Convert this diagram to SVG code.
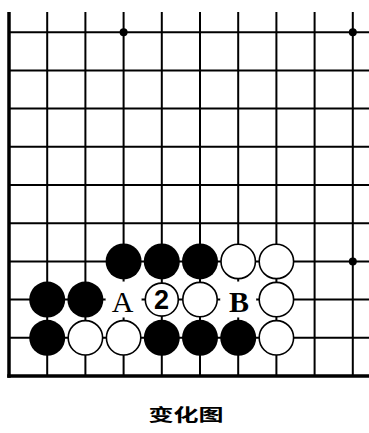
<svg xmlns="http://www.w3.org/2000/svg" width="369" height="433" viewBox="0 0 369 433">
<style>
.ln{stroke:#000;stroke-width:2;fill:none}
.edge{stroke:#000;stroke-width:3.5;fill:none}
.b{fill:#000}
.w{fill:#fff;stroke:#000;stroke-width:1.6}
.star{fill:#000}
.lab{font-family:"Liberation Serif",serif;font-size:30px;fill:#000;text-anchor:middle}
</style>
<rect width="369" height="433" fill="#fff"/>
<g id="connectors">
<g class="ln">
<line x1="47.2" y1="12" x2="47.2" y2="376"/>
<line x1="85.4" y1="12" x2="85.4" y2="376"/>
<line x1="123.6" y1="12" x2="123.6" y2="376"/>
<line x1="161.8" y1="12" x2="161.8" y2="376"/>
<line x1="200" y1="12" x2="200" y2="376"/>
<line x1="238.2" y1="12" x2="238.2" y2="376"/>
<line x1="276.4" y1="12" x2="276.4" y2="376"/>
<line x1="314.6" y1="12" x2="314.6" y2="376"/>
<line x1="352.8" y1="12" x2="352.8" y2="376"/>
<line x1="9" y1="32.2" x2="369" y2="32.2"/>
<line x1="9" y1="70.4" x2="369" y2="70.4"/>
<line x1="9" y1="108.6" x2="369" y2="108.6"/>
<line x1="9" y1="146.8" x2="369" y2="146.8"/>
<line x1="9" y1="185" x2="369" y2="185"/>
<line x1="9" y1="223.2" x2="369" y2="223.2"/>
<line x1="9" y1="261.4" x2="369" y2="261.4"/>
<line x1="9" y1="299.6" x2="369" y2="299.6"/>
<line x1="9" y1="337.8" x2="369" y2="337.8"/>
</g>
<g class="edge">
<line x1="9" y1="12" x2="9" y2="377.75"/>
<line x1="7.25" y1="376" x2="369" y2="376"/>
</g>
<circle class="star" cx="123.6" cy="32.2" r="4"/>
<circle class="star" cx="352.8" cy="32.2" r="4"/>
<circle class="star" cx="352.8" cy="261.4" r="4"/>
</g>
<g id="stone-b-3-3"><circle class="b" cx="123.6" cy="261.4" r="18"/></g>
<g id="stone-b-4-3"><circle class="b" cx="161.8" cy="261.4" r="18"/></g>
<g id="stone-b-5-3"><circle class="b" cx="200" cy="261.4" r="18"/></g>
<g id="stone-w-6-3"><circle class="w" cx="238.2" cy="261.4" r="17.2"/></g>
<g id="stone-w-7-3"><circle class="w" cx="276.4" cy="261.4" r="17.2"/></g>
<g id="stone-b-1-2"><circle class="b" cx="47.2" cy="299.6" r="18"/></g>
<g id="stone-b-2-2"><circle class="b" cx="85.4" cy="299.6" r="18"/></g>
<g id="label-A"><circle cx="123.6" cy="299.6" r="18" fill="#fff"/><text class="lab" x="122.5" y="311.5">A</text></g>
<g id="stone-w-2"><circle class="w" cx="161.8" cy="299.6" r="16.5"/><text x="161.5" y="309.3" font-family="Liberation Sans, sans-serif" font-size="27" font-weight="bold" text-anchor="middle" fill="#000">2</text></g>
<g id="stone-w-5-2"><circle class="w" cx="200" cy="299.6" r="17.2"/></g>
<g id="label-B"><circle cx="238.2" cy="299.6" r="18" fill="#fff"/><text class="lab" x="239" y="311.5" font-weight="bold">B</text></g>
<g id="stone-w-7-2"><circle class="w" cx="276.4" cy="299.6" r="17.2"/></g>
<g id="stone-b-1-1"><circle class="b" cx="47.2" cy="337.8" r="18"/></g>
<g id="stone-w-2-1"><circle class="w" cx="85.4" cy="337.8" r="17.2"/></g>
<g id="stone-w-3-1"><circle class="w" cx="123.6" cy="337.8" r="17.2"/></g>
<g id="stone-b-4-1"><circle class="b" cx="161.8" cy="337.8" r="18"/></g>
<g id="stone-b-5-1"><circle class="b" cx="200" cy="337.8" r="18"/></g>
<g id="stone-b-6-1"><circle class="b" cx="238.2" cy="337.8" r="18"/></g>
<g id="stone-w-7-1"><circle class="w" cx="276.4" cy="337.8" r="17.2"/></g>
<g id="caption"><text x="148.5" y="421" font-family="Noto Sans CJK SC, sans-serif" font-size="16.5" font-weight="bold" textLength="75" lengthAdjust="spacingAndGlyphs" fill="#000">变化图</text></g>
</svg>
